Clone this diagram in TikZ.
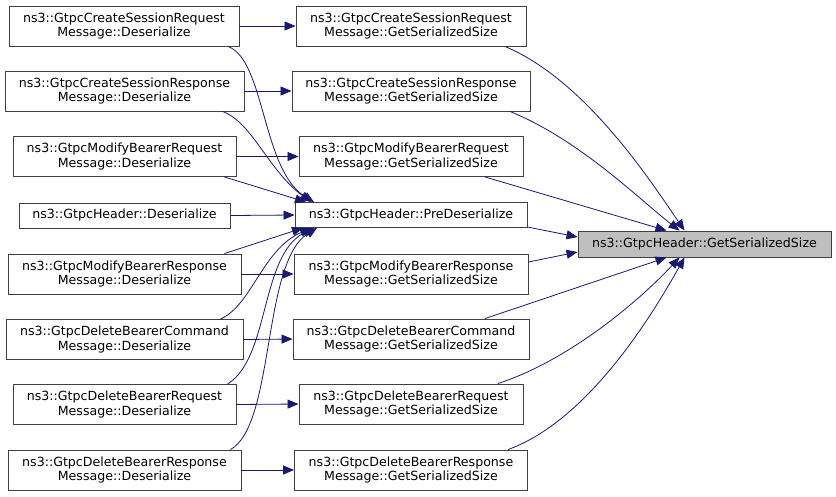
\documentclass[tikz,border=0pt]{standalone}
\usepackage{fontspec}
\setmainfont{DejaVu Sans}
\usetikzlibrary{arrows.meta,calc}
\definecolor{edgec}{HTML}{191970}
\definecolor{boxc}{HTML}{404040}
\tikzset{
  box/.style={draw=boxc, line width=0.9pt, fill=white, inner sep=0pt, align=center,
    font=\fontsize{12.6}{14.5}\selectfont},
  tall/.style={minimum height=40pt},
  flat/.style={minimum height=25pt},
  conn/.style={draw=edgec, line width=0.8pt, -{Triangle[length=11pt,width=9pt]}},
}
\begin{document}
\begin{tikzpicture}[x=1pt,y=-1pt]
\useasboundingbox (0,0) rectangle (836,496);
% left column
\node[box,tall,minimum width=230] (l1) at (124,26) {ns3::GtpcCreateSessionRequest\\Message::Deserialize};
\node[box,tall,minimum width=239] (l2) at (124.5,91) {ns3::GtpcCreateSessionResponse\\Message::Deserialize};
\node[box,tall,minimum width=223] (l3) at (124.5,156.5) {ns3::GtpcModifyBearerRequest\\Message::Deserialize};
\node[box,flat,minimum width=211] (l4) at (124.5,215.5) {ns3::GtpcHeader::Deserialize};
\node[box,tall,minimum width=233] (l5) at (124.5,274) {ns3::GtpcModifyBearerResponse\\Message::Deserialize};
\node[box,tall,minimum width=237] (l6) at (124.5,339.5) {ns3::GtpcDeleteBearerCommand\\Message::Deserialize};
\node[box,tall,minimum width=223] (l7) at (124.5,404.5) {ns3::GtpcDeleteBearerRequest\\Message::Deserialize};
\node[box,tall,minimum width=233] (l8) at (124.5,470) {ns3::GtpcDeleteBearerResponse\\Message::Deserialize};
% middle column
\node[box,tall,minimum width=230] (m1) at (411,26) {ns3::GtpcCreateSessionRequest\\Message::GetSerializedSize};
\node[box,tall,minimum width=238] (m2) at (411,91) {ns3::GtpcCreateSessionResponse\\Message::GetSerializedSize};
\node[box,tall,minimum width=224] (m3) at (411,156.5) {ns3::GtpcModifyBearerRequest\\Message::GetSerializedSize};
\node[box,flat,minimum width=232] (p) at (411,215) {ns3::GtpcHeader::PreDeserialize};
\node[box,tall,minimum width=234] (m5) at (411,274) {ns3::GtpcModifyBearerResponse\\Message::GetSerializedSize};
\node[box,tall,minimum width=236] (m6) at (411,339) {ns3::GtpcDeleteBearerCommand\\Message::GetSerializedSize};
\node[box,tall,minimum width=224] (m7) at (411,404) {ns3::GtpcDeleteBearerRequest\\Message::GetSerializedSize};
\node[box,tall,minimum width=233] (m8) at (411,470) {ns3::GtpcDeleteBearerResponse\\Message::GetSerializedSize};
% right
\node[box,minimum height=26pt,minimum width=253,fill={rgb,255:red,191;green,191;blue,191}] (r) at (704.5,244) {ns3::GtpcHeader::GetSerializedSize};
% horizontal edges
\foreach \i in {1,2,3,5,6,7,8} {\draw[conn] (l\i.east) -- (m\i.west);}
\draw[conn] (l4.east) -- (p.west);
% left to PreDeserialize
\draw[conn] ([xshift=104]l1.south) .. controls (265,60) and (262,170) .. ([xshift=-97]p.north);
\draw[conn] ([xshift=98]l2.south) .. controls (252,122) and (268,170) .. ([xshift=-100]p.north);
\draw[conn] ([xshift=100]l3.south) -- ([xshift=-105]p.north);
\draw[conn] ([xshift=100]l5.north) -- ([xshift=-108]p.south);
\draw[conn] ([xshift=96]l6.north) .. controls (252,305) and (262,250) .. ([xshift=-100]p.south);
\draw[conn] ([xshift=103]l7.north) .. controls (270,358) and (260,255) .. ([xshift=-97]p.south);
\draw[conn] ([xshift=106]l8.north) .. controls (275,425) and (262,262) .. ([xshift=-94]p.south);
% middle to right
\draw[conn] ([xshift=94]m1.south) .. controls (585,80) and (650,180) .. ([xshift=-20]r.north);
\draw[conn] ([xshift=99]m2.south) .. controls (580,140) and (640,200) .. ([xshift=-25]r.north);
\draw[conn] ([xshift=74]m3.south) -- ([xshift=-38]r.north);
\draw[conn] ([yshift=-12]p.east) -- ([yshift=7]r.west);
\draw[conn] ([yshift=12]m5.east) -- ([yshift=-8]r.west);
\draw[conn] ([xshift=74]m6.north) -- ([xshift=-38]r.south);
\draw[conn] ([xshift=87]m7.north) .. controls (570,360) and (640,300) .. ([xshift=-25]r.south);
\draw[conn] ([xshift=97]m8.north) .. controls (590,420) and (655,310) .. ([xshift=-20]r.south);
\end{tikzpicture}
\end{document}
